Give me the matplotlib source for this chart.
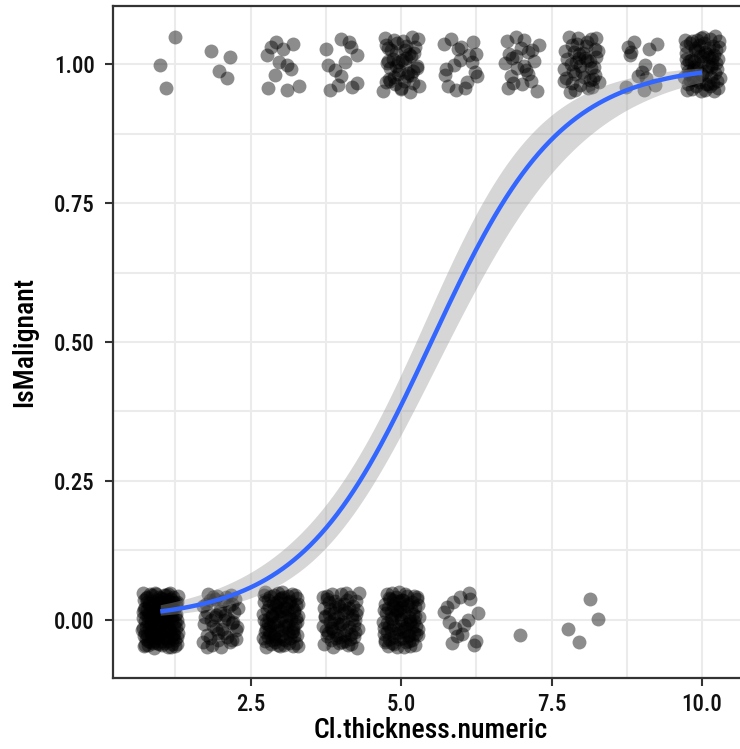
import numpy as np
import matplotlib
matplotlib.use("Agg")
import matplotlib.pyplot as plt
from matplotlib.ticker import MultipleLocator
from matplotlib import font_manager as fm

# ---- data: counts of cases per clump thickness, by class ----
thickness = np.array([1, 2, 3, 4, 5, 6, 7, 8, 9, 10])
n_benign = np.array([139, 46, 92, 67, 85, 16, 1, 4, 0, 0])
n_malignant = np.array([3, 4, 12, 13, 45, 18, 22, 42, 14, 69])

x_ticks = [2.5, 5.0, 7.5, 10.0]
x_tick_labels = ["2.5", "5.0", "7.5", "10.0"]
y_ticks = [0.0, 0.25, 0.5, 0.75, 1.0]
y_tick_labels = ["0.00", "0.25", "0.50", "0.75", "1.00"]

# ---- fonts ----
avail = {f.name for f in fm.fontManager.ttflist}
fam = [f for f in ["Liberation Sans Narrow", "Arial Narrow", "Roboto Condensed",
                   "Liberation Sans", "DejaVu Sans"] if f in avail]
plt.rcParams["font.family"] = fam
plt.rcParams["font.weight"] = "medium"


def halton(i, b):
    f, r = 1.0, 0.0
    while i > 0:
        f /= b
        r += f * (i % b)
        i //= b
    return r


# ---- expand to observations with deterministic quasi-random jitter ----
jx, jy, xs, ys = [], [], [], []
idx = 1
for t, nb, nm in zip(thickness, n_benign, n_malignant):
    for cls, n in ((0, nb), (1, nm)):
        for _ in range(n):
            u1 = halton(idx * 7 + 3, 2)
            u2 = halton(idx * 5 + 1, 3)
            idx += 1
            xs.append(t)
            ys.append(cls)
            jx.append(t + (u1 * 2 - 1) * 0.3)
            jy.append(cls + (u2 * 2 - 1) * 0.05)
xs = np.array(xs, float)
ys = np.array(ys, float)

# ---- logistic regression (IRLS) ----
X = np.column_stack([np.ones_like(xs), xs])
beta = np.zeros(2)
for _ in range(50):
    eta = X @ beta
    mu = 1 / (1 + np.exp(-eta))
    W = mu * (1 - mu)
    z = eta + (ys - mu) / W
    XtW = X.T * W
    beta = np.linalg.solve(XtW @ X, XtW @ z)
eta = X @ beta
mu = 1 / (1 + np.exp(-eta))
W = mu * (1 - mu)
cov = np.linalg.inv((X.T * W) @ X)

xg = np.linspace(1, 10, 200)
Xg = np.column_stack([np.ones_like(xg), xg])
eg = Xg @ beta
se = np.sqrt(np.einsum("ij,jk,ik->i", Xg, cov, Xg))
inv = lambda e: 1 / (1 + np.exp(-e))
fit = inv(eg)
lo = inv(eg - 1.959964 * se)
hi = inv(eg + 1.959964 * se)

# ---- figure ----
fig = plt.figure(figsize=(7.40, 7.49), dpi=100)
ax = fig.add_axes([0.1531, 0.0944, 0.859, 0.898])
ax.set_xlim(0.22, 10.78)
ax.set_ylim(-0.105, 1.105)

ax.xaxis.set_major_locator(MultipleLocator(2.5))
ax.xaxis.set_minor_locator(MultipleLocator(1.25))
ax.yaxis.set_major_locator(MultipleLocator(0.25))
ax.yaxis.set_minor_locator(MultipleLocator(0.125))
ax.grid(True, which="both", color="#EBEBEB", linewidth=1.5, zorder=0)
ax.set_axisbelow(True)

ax.scatter(jx, jy, s=100, color="black", alpha=0.45, linewidths=0, zorder=2)
ax.fill_between(xg, lo, hi, color="#999999", alpha=0.4, linewidth=0, zorder=3)
ax.plot(xg, fit, color="#3366FF", linewidth=3.2, zorder=4, solid_capstyle="butt")

ax.set_xticks(x_ticks)
ax.set_xticklabels(x_tick_labels)
ax.set_yticks(y_ticks)
ax.set_yticklabels(y_tick_labels)
ax.tick_params(which="minor", length=0)
ax.tick_params(which="major", length=5.5, width=1.5, color="#333333",
               labelsize=16.5, labelcolor="#111111")
ax.tick_params(axis="y", pad=8)
ax.tick_params(axis="x", pad=5)

for side in ["left", "bottom", "top", "right"]:
    ax.spines[side].set_color("#333333")
    ax.spines[side].set_linewidth(1.6)

ax.set_xlabel("Cl.thickness.numeric", fontsize=20, labelpad=1, fontweight="medium")
ax.set_ylabel("IsMalignant", fontsize=20, labelpad=11, fontweight="medium")

fig.savefig("out.png", dpi=100)
